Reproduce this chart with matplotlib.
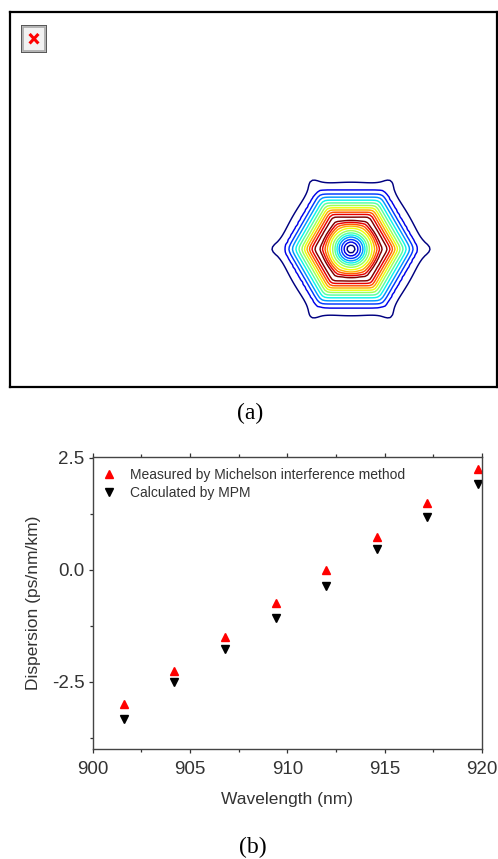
import numpy as np
import matplotlib.pyplot as plt
from matplotlib.patches import Rectangle

plt.rcParams['font.family'] = ['Liberation Sans', 'DejaVu Sans']

# ---- panel (b) data ----
wavelength = [901.6, 904.2, 906.8, 909.4, 912.0, 914.6, 917.2, 919.8]
measured = [-3.00, -2.25, -1.50, -0.74, 0.00, 0.74, 1.50, 2.25]
calculated = [-3.33, -2.51, -1.77, -1.08, -0.37, 0.47, 1.18, 1.92]

# ---- panel (a) mode field: contour level vs radius (px, along the hexagon vertex) ----
ring_r = [0, 4, 7, 9.5, 12, 14, 16, 18.3, 21, 23.7, 26, 28.5, 31, 33.5,
          36, 39, 41.5, 44, 46.5, 49, 52, 55, 58.5, 62, 66, 79, 92]
ring_val = [0, 1, 2, 3, 4, 5, 6, 7, 8, 9, 10, 11, 12, 12.8,
            12, 11, 10, 9, 8, 7, 6, 5, 4, 3, 2, 1, 0]
levels = list(range(1, 13))
center = (341, 138)    # in box pixel coords

W, H = 498, 859
fig = plt.figure(figsize=(W / 100, H / 100), dpi=100)

# ---------------- panel (a) ----------------
axa = fig.add_axes([10 / W, 1 - 387 / H, 487 / W, 375 / H])
axa.set_xlim(0, 487)
axa.set_ylim(0, 375)
axa.set_xticks([])
axa.set_yticks([])
for s in axa.spines.values():
    s.set_linewidth(1.6)
    s.set_color('black')

gx, gy = np.meshgrid(np.arange(250, 435, 2.5), np.arange(40, 240, 2.5))
dx, dy = gx - center[0], gy - center[1]
r = np.hypot(dx, dy)
# soft hexagonal norm, vertices at 0/60/120... deg
n = 30
normals = np.radians([30, 90, 150])
proj = sum(np.abs(dx * np.cos(a) + dy * np.sin(a)) ** n for a in normals) ** (1 / n)
m0 = np.cos(np.radians(30)) * 2 ** (1 / n)
hexf = np.where(r > 0, r * m0 / np.maximum(proj, 1e-9), 1.0)
p = np.clip((r - 20) / 12, 0, 1) + 1.4 * np.clip((r - 64) / 10, 0, 1)
rho = r / hexf ** p
field = np.interp(rho, ring_r, ring_val)
axa.contour(gx, gy, field, levels=levels, cmap='jet', vmin=1, vmax=12,
            linewidths=1.05)

# broken image icon
icon_ax = fig.add_axes([21 / W, 1 - 53 / H, 26 / W, 28 / H])
icon_ax.set_xlim(0, 1)
icon_ax.set_ylim(0, 1)
icon_ax.axis('off')
icon_ax.add_patch(Rectangle((0, 0), 1, 1, facecolor='#f2f2f2',
                            edgecolor='#555555', linewidth=1.4))
icon_ax.add_patch(Rectangle((0.06, 0.06), 0.88, 0.88, facecolor='none',
                            edgecolor='#a8a8a8', linewidth=1.2))
icon_ax.plot([0.37, 0.63], [0.38, 0.64], color='red', lw=2.2)
icon_ax.plot([0.37, 0.63], [0.64, 0.38], color='red', lw=2.2)

fig.text(250 / W, 1 - 413 / H, '(a)', ha='center', va='center',
         fontsize=17, family='Liberation Serif')

# ---------------- panel (b) ----------------
axb = fig.add_axes([92.7 / W, 1 - 749 / H, 389.3 / W, 292 / H])
axb.plot(wavelength, measured, linestyle='none', marker='^', color='red',
         markersize=5.5, label='Measured by Michelson interference method')
axb.plot(wavelength, calculated, linestyle='none', marker='v', color='black',
         markersize=5.5, label='Calculated by MPM')
axb.set_xlim(900, 920)
axb.set_ylim(-4.0, 2.52)
axb.set_xticks([900, 905, 910, 915, 920])
axb.set_xticks(np.arange(902.5, 920, 5), minor=True)
axb.set_yticks([-2.5, 0.0, 2.5])
axb.set_yticks([-3.75, -1.25, 1.25], minor=True)
axb.set_yticklabels(['-2.5', '0.0', '2.5'])
axb.tick_params(which='both', direction='out', length=3, width=0.9,
                color='#333', top=True, labelsize=13.5, labelcolor='#333')
axb.tick_params(axis='x', pad=6)
axb.tick_params(axis='y', pad=3)
axb.tick_params(which='minor', length=2.5)
for s in axb.spines.values():
    s.set_color('#444')
    s.set_linewidth(1.0)
axb.set_xlabel('Wavelength (nm)', fontsize=12.5, color='#333', labelpad=10)
axb.set_ylabel('Dispersion (ps/nm/km)', fontsize=12.5, color='#333', labelpad=8)
axb.legend(loc='upper left', frameon=False, fontsize=10, handlelength=0.8,
           handletextpad=1.1, labelspacing=0.3, borderaxespad=0.4,
           labelcolor='#333')

fig.text(253 / W, 1 - 847 / H, '(b)', ha='center', va='center',
         fontsize=17, family='Liberation Serif')

fig.savefig('out.png', dpi=100)
